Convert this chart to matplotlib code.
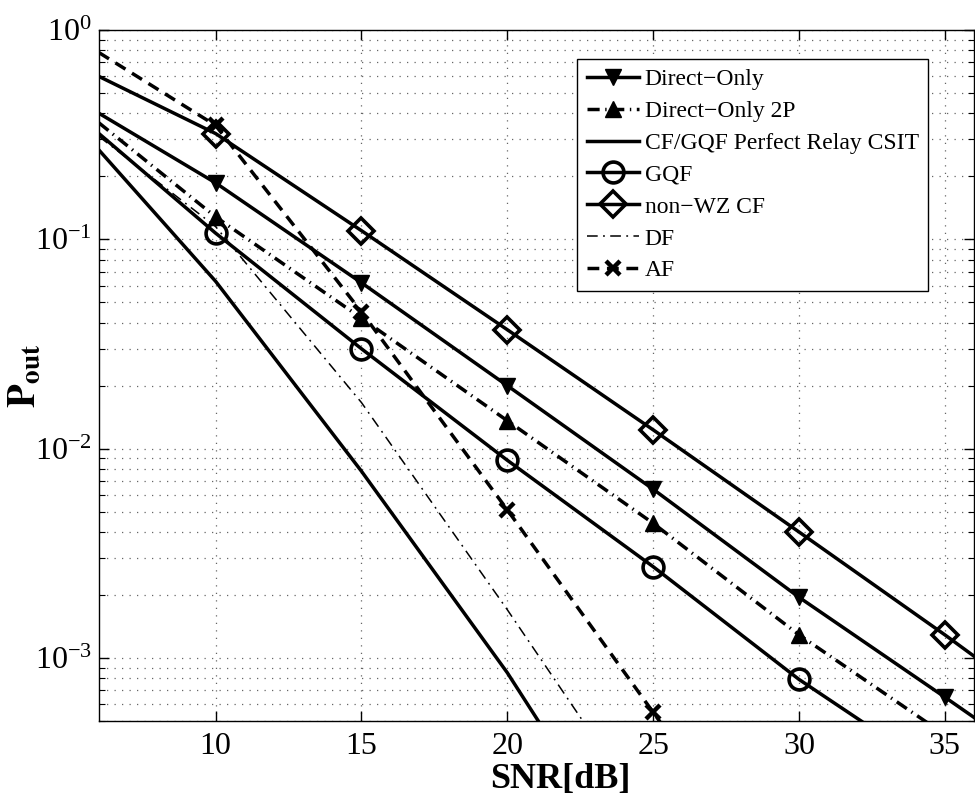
import matplotlib
matplotlib.use("Agg")
import matplotlib.pyplot as plt
import numpy as np
from matplotlib.ticker import LogLocator, NullFormatter, FixedLocator


# (SNR in dB, outage probability)
SNR_LONG = [6, 10, 15, 20, 25, 30, 35, 36]
DIRECT_ONLY = [0.40, 0.186, 0.062, 0.020, 0.0064, 0.00195, 0.00065, 0.00052]
DIRECT_2P = [0.36, 0.128, 0.042, 0.0136, 0.0044, 0.00129, 0.00043, 0.00034]
GQF = [0.32, 0.107, 0.030, 0.0088, 0.00273, 0.00079, 0.00027, 0.00022]
NON_WZ_CF = [0.60, 0.32, 0.11, 0.037, 0.0123, 0.0040, 0.00129, 0.00102]

SNR_SHORT = [6, 10, 15, 20, 25]
CF_PERFECT = [0.267, 0.063, 0.0078, 0.00085, 0.00007]
DF = [0.31, 0.115, 0.0166, 0.0017, 0.00016]

SNR_AF = [6, 10, 15, 20, 25, 30]
AF = [0.78, 0.35, 0.045, 0.0051, 0.00055, 0.00006]

X_TICKS = [10, 15, 20, 25, 30, 35]


def configure_style():
    plt.rcParams["font.family"] = "serif"
    plt.rcParams["font.serif"] = ["Liberation Serif", "DejaVu Serif"]
    plt.rcParams["mathtext.fontset"] = "stix"
    plt.rcParams["axes.unicode_minus"] = True
    plt.rcParams["axes.linewidth"] = 1.0
    plt.rcParams["xtick.direction"] = "in"
    plt.rcParams["ytick.direction"] = "in"
    plt.rcParams["xtick.top"] = True
    plt.rcParams["ytick.right"] = True


def main():
    configure_style()
    fig = plt.figure(figsize=(9.75, 8.0), dpi=100)
    ax = fig.add_axes([0.1015, 0.09875, 0.8975, 0.86375])

    lw = 2.5
    marks = slice(1, 7)
    ax.plot(SNR_LONG, DIRECT_ONLY, "-", color="k", lw=lw, marker="v", ms=12,
            markevery=marks, mfc="k", mec="k", label="Direct\u2212Only")
    ax.plot(SNR_LONG, DIRECT_2P, color="k", lw=lw, ls=(0, (3.5, 1.6, 0.4, 1.6)),
            marker="^", ms=12, markevery=marks, mfc="k", mec="k",
            label="Direct\u2212Only 2P")
    ax.plot(SNR_SHORT, CF_PERFECT, "-", color="k", lw=lw,
            label="CF/GQF Perfect Relay CSIT")
    ax.plot(SNR_LONG, GQF, "-", color="k", lw=lw, marker="o", ms=15, mew=2.6,
            markevery=marks, mfc="none", mec="k", label="GQF")
    ax.plot(SNR_LONG, NON_WZ_CF, "-", color="k", lw=lw, marker="D", ms=13, mew=2.6,
            markevery=marks, mfc="none", mec="k", label="non\u2212WZ CF")
    ax.plot(SNR_SHORT, DF, color="k", lw=1.1, ls=(0, (7, 3.5, 1.2, 3.5)), label="DF")
    ax.plot(SNR_AF, AF, color="k", lw=lw, ls=(0, (3.4, 2.2)), marker="x", ms=10, mew=3.2,
            markevery=slice(1, 6), label="AF")

    ax.set_yscale("log")
    ax.set_xlim(6, 36)
    ax.set_ylim(5e-4, 1)
    ax.xaxis.set_major_locator(FixedLocator(X_TICKS))
    ax.yaxis.set_major_locator(LogLocator(base=10, numticks=10))
    ax.yaxis.set_minor_locator(LogLocator(base=10, subs=np.arange(2, 10), numticks=20))
    ax.yaxis.set_minor_formatter(NullFormatter())
    ax.tick_params(axis="both", which="major", labelsize=23, length=7, width=1.0)
    ax.tick_params(axis="x", which="major", pad=8)
    ax.tick_params(axis="y", which="major", pad=5)
    ax.tick_params(axis="y", which="minor", length=4, width=0.8)

    grid_style = dict(ls=(0, (1, 5)), color="#666666", lw=0.9)
    ax.grid(True, which="major", axis="x", **grid_style)
    ax.grid(True, which="both", axis="y", **grid_style)

    ax.set_xlabel("SNR[dB]", fontsize=26, fontweight="bold", va="center")
    ax.xaxis.set_label_coords(0.527, -0.084)
    ax.set_ylabel(r"$\mathbf{P_{out}}$", fontsize=28)
    ax.yaxis.set_label_coords(-0.062, 0.5)

    leg = ax.legend(loc="upper right", bbox_to_anchor=(0.9475, 0.958), borderaxespad=0,
                    fontsize=17, fancybox=False, framealpha=1, edgecolor="k",
                    handlelength=2.2, handletextpad=0.25, labelspacing=0.44,
                    borderpad=0.4, numpoints=1)
    leg.get_frame().set_linewidth(1.0)

    fig.savefig("out.png", dpi=100)


if __name__ == "__main__":
    main()
